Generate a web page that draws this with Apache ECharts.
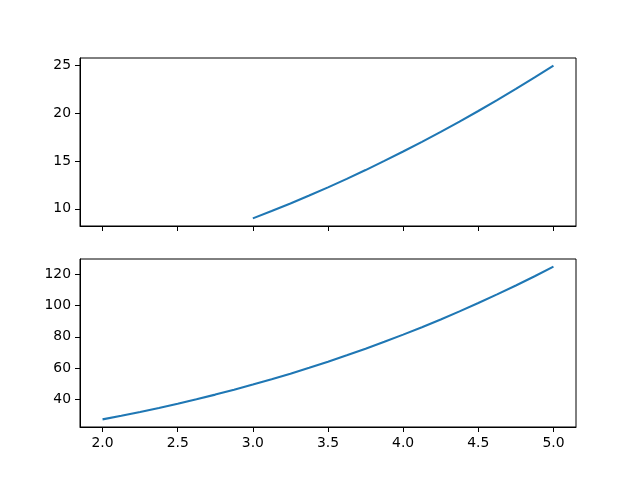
<!DOCTYPE html>
<html>
<head>
<meta charset="utf-8">
<script src="https://cdn.jsdelivr.net/npm/echarts@6/dist/echarts.min.js"></script>
<style>html,body{margin:0;padding:0;background:#fff}#c{width:640px;height:480px}</style>
</head>
<body>
<div id="c"></div>
<script>
// Top panel: values
var topX = [3, 3.125, 3.25, 3.375, 3.5, 3.625, 3.75, 3.875, 4, 4.125, 4.25, 4.375, 4.5, 4.625, 4.75, 4.875, 5];
var topY = [9, 9.77, 10.56, 11.39, 12.25, 13.14, 14.06, 15.02, 16, 17.02, 18.06, 19.14, 20.25, 21.39, 22.56, 23.77, 25];
// Bottom panel
var botX = [2, 2.125, 2.25, 2.375, 2.5, 2.625, 2.75, 2.875, 3, 3.125, 3.25, 3.375, 3.5, 3.625, 3.75, 3.875, 4, 4.125, 4.25, 4.375, 4.5, 4.625, 4.75, 4.875, 5];
var botY = [27, 29.31, 31.76, 34.33, 37.04, 39.89, 42.88, 46.01, 49.3, 52.73, 56.33, 60.08, 64, 68.08, 72.34, 76.77, 81.37, 86.16, 91.13, 96.28, 101.63, 107.17, 112.91, 118.86, 125];
// Tick labels
var xTicks = [2.0, 2.5, 3.0, 3.5, 4.0, 4.5, 5.0];
var topYTicks = [10, 15, 20, 25];
var botYTicks = [40, 60, 80, 100, 120];

function pairs(xs, ys) { return xs.map(function (x, i) { return [x, ys[i]]; }); }

var font = { fontFamily: 'DejaVu Sans', fontSize: 13.9, color: '#000' };

function xAxis(gi, showLabels) {
  return {
    type: 'value', gridIndex: gi, min: 1.85, max: 5.15,
    axisLine: { show: true, onZero: false, lineStyle: { color: '#000', width: 1 } },
    axisTick: { show: true, length: 5, inside: false, customValues: xTicks, lineStyle: { color: '#000', width: 1 } },
    axisLabel: Object.assign({ show: showLabels, margin: 9, customValues: xTicks, formatter: function (v) { return v.toFixed(1); } }, font),
    splitLine: { show: false }
  };
}
function yAxis(gi, mn, mx, ticks) {
  return {
    type: 'value', gridIndex: gi, min: mn, max: mx,
    axisLine: { show: true, onZero: false, lineStyle: { color: '#000', width: 1 } },
    axisTick: { show: true, length: 5, customValues: ticks, lineStyle: { color: '#000', width: 1 } },
    axisLabel: Object.assign({ margin: 9, customValues: ticks }, font),
    splitLine: { show: false }
  };
}

var chart = echarts.init(document.getElementById('c'), null, { renderer: 'canvas' });
chart.setOption({
  animation: false,
  backgroundColor: '#fff',
  grid: [
    { left: 80, right: 64, top: 58, height: 168, show: true, borderColor: '#000', borderWidth: 1, backgroundColor: 'transparent' },
    { left: 80, right: 64, top: 259, height: 168, show: true, borderColor: '#000', borderWidth: 1, backgroundColor: 'transparent' }
  ],
  xAxis: [xAxis(0, false), xAxis(1, true)],
  yAxis: [yAxis(0, 8.2, 25.8, topYTicks), yAxis(1, 22.1, 129.9, botYTicks)],
  series: [
    { type: 'line', xAxisIndex: 0, yAxisIndex: 0, data: pairs(topX, topY), showSymbol: false, smooth: false, lineStyle: { color: '#1f77b4', width: 2.08 } },
    { type: 'line', xAxisIndex: 1, yAxisIndex: 1, data: pairs(botX, botY), showSymbol: false, smooth: false, lineStyle: { color: '#1f77b4', width: 2.08 } }
  ]
});
</script>
</body>
</html>
